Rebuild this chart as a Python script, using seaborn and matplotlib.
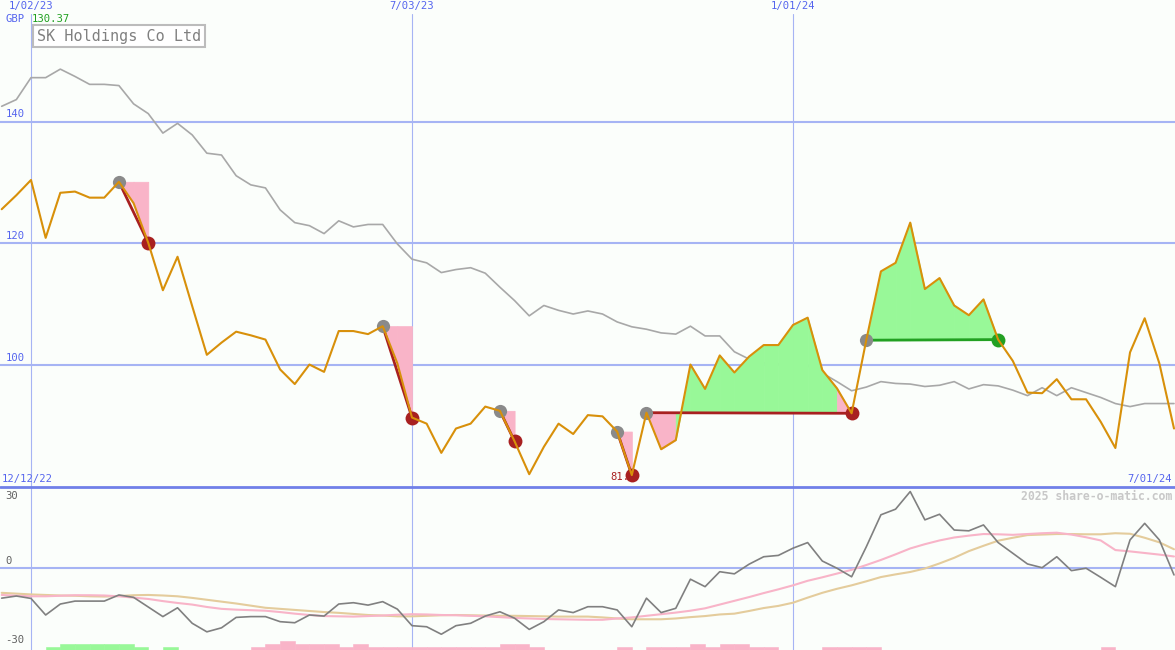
import numpy as np
import pandas as pd
import seaborn as sns
import matplotlib.pyplot as plt
import matplotlib.dates as mdates
from matplotlib.lines import Line2D

# weekly closes, 12/19/22 .. 7/01/24
weeks = pd.date_range("2022-12-19", periods=81, freq="7D")

price = [125.6, 127.9, 130.4, 120.9, 128.3, 128.5, 127.5, 127.5, 130.1, 126.6,
         120.1, 112.3, 117.8, 109.7, 101.7, 103.7, 105.5, 104.9, 104.2, 99.3,
         96.9, 100.1, 98.9, 105.6, 105.6, 105.1, 106.4, 100.3, 91.4, 90.4,
         85.6, 89.6, 90.4, 93.2, 92.5, 87.5, 82.1, 86.6, 90.4, 88.7,
         91.8, 91.6, 89.1, 81.95, 92.2, 86.2, 87.7, 100.1, 96.1, 101.6,
         98.8, 101.4, 103.3, 103.3, 106.6, 107.8, 99.2, 96.2, 92.1, 104.1,
         115.4, 116.8, 123.4, 112.5, 114.3, 109.8, 108.2, 110.8, 104.2, 100.7,
         95.5, 95.4, 97.7, 94.4, 94.4, 90.7, 86.4, 102.1, 107.7, 100.3,
         89.6]

# slow moving average (grey)
avg = [142.5, 143.6, 147.2, 147.2, 148.6, 147.4, 146.1, 146.1, 145.9, 142.9,
       141.3, 138.1, 139.7, 137.8, 134.8, 134.5, 131.1, 129.6, 129.1, 125.5,
       123.4, 122.9, 121.6, 123.7, 122.7, 123.1, 123.1, 119.9, 117.4, 116.8,
       115.2, 115.7, 116.0, 115.1, 112.8, 110.6, 108.1, 109.8, 109.0, 108.4,
       108.9, 108.4, 107.1, 106.3, 105.9, 105.3, 105.1, 106.4, 104.8, 104.8,
       102.2, 101.0, 100.4, 100.2, 100.5, 99.9, 98.7, 97.3, 95.8, 96.4,
       97.3, 97.0, 96.9, 96.5, 96.7, 97.3, 96.1, 96.8, 96.6, 95.9,
       95.0, 96.3, 95.0, 96.3, 95.5, 94.7, 93.7, 93.2, 93.7, 93.7,
       93.7]

# lower panel oscillator and its two averages
osc = [-11.3, -10.5, -11.4, -17.6, -13.5, -12.4, -12.4, -12.4, -10.1, -11.0,
       -14.6, -18.2, -14.9, -20.7, -23.9, -22.4, -18.5, -18.2, -18.2, -20.1,
       -20.5, -17.6, -18.0, -13.5, -13.0, -13.9, -12.6, -15.4, -21.6, -22.0,
       -24.8, -21.6, -20.7, -18.0, -16.4, -18.8, -23.0, -20.1, -15.7, -16.7,
       -14.5, -14.5, -15.7, -22.0, -11.3, -16.7, -15.1, -4.2, -7.0, -1.4,
       -2.2, 1.4, 4.2, 4.7, 7.4, 9.5, 2.6, -0.1, -3.3, 7.9,
       19.9, 22.0, 28.6, 18.0, 20.1, 14.2, 13.9, 16.1, 9.5, 5.5,
       1.5, 0.1, 4.2, -1.0, -0.1, -3.5, -7.0, 10.5, 16.7, 10.5,
       -2.6]

osc_fast = [-10.1, -10.4, -10.6, -10.6, -10.4, -10.2, -10.2, -10.3, -10.6, -11.1,
            -11.6, -12.4, -13.1, -13.7, -14.6, -15.3, -15.6, -15.8, -16.0, -16.5,
            -17.1, -17.6, -18.0, -18.1, -18.2, -18.0, -17.8, -17.5, -17.3, -17.4,
            -17.6, -17.7, -17.9, -18.1, -18.4, -18.7, -18.9, -19.1, -19.2, -19.3,
            -19.4, -19.4, -18.9, -18.5, -17.9, -17.3, -16.7, -16.0, -15.1, -13.7,
            -12.3, -10.9, -9.4, -8.0, -6.5, -4.8, -3.5, -2.1, -0.7, 1.1,
            3.0, 5.1, 7.3, 8.9, 10.3, 11.4, 12.1, 12.7, 12.6, 12.4,
            12.7, 13.0, 13.2, 12.5, 11.5, 10.3, 6.7, 6.2, 5.6, 5.0,
            4.3]

osc_slow = [-9.3, -9.6, -9.9, -10.1, -10.3, -10.4, -10.6, -10.7, -10.5, -10.2,
            -10.1, -10.3, -10.6, -11.2, -11.9, -12.6, -13.3, -14.1, -14.9, -15.3,
            -15.7, -16.1, -16.5, -16.8, -17.2, -17.6, -17.8, -18.1, -18.1, -17.9,
            -17.7, -17.6, -17.7, -17.8, -17.9, -17.9, -18.0, -18.1, -18.2, -18.2,
            -18.2, -18.5, -18.9, -19.2, -19.2, -19.2, -18.9, -18.4, -18.0, -17.4,
            -17.1, -16.1, -15.0, -14.2, -13.0, -11.1, -9.3, -7.8, -6.5, -5.0,
            -3.4, -2.4, -1.5, -0.2, 1.7, 3.8, 6.3, 8.3, 10.2, 11.3,
            12.3, 12.5, 12.7, 12.7, 12.6, 12.6, 13.0, 12.8, 11.3, 9.6,
            7.0]

# small histogram along the bottom edge (+ green, - pink)
hist = [0, 0, 0, 1.1, 2.2, 2.2, 2.2, 2.2, 2.2, 1.1,
        0, 1.1, 0, 0, 0, 0, 0, -1.1, -2.2, -3.4,
        -2.2, -2.2, -2.2, -1.1, -2.2, -1.1, -1.1, -1.1, -1.1, -1.1,
        -1.1, -1.1, -1.1, -1.1, -2.2, -2.2, -1.1, 0, 0, 0,
        0, 0, -1.1, 0, -1.1, -1.1, -1.1, -2.2, -1.1, -2.2,
        -2.2, -1.1, -1.1, 0, 0, 0, -1.1, -1.1, -1.1, -1.1,
        0, 0, 0, 0, 0, 0, 0, 0, 0, 0,
        0, 0, 0, 0, 0, -1.1, 0, 0, 0, 0,
        0]

# (entry week, exit week) as positions in weeks
trades = [(8, 10), (26, 28), (34, 35), (42, 43), (44, 58), (59, 68)]

grid_dates = ["2023-01-02", "2023-07-03", "2024-01-01"]
grid_labels = ["1/02/23", "7/03/23", "1/01/24"]
price_levels = [100, 120, 140]

BG = "#fbfefb"
GRID = "#a6b4f4"
BLUE_TXT = "#5565ee"
ORANGE = "#d8900a"
PINK_FILL = "#f9b4c8"
GREEN_FILL = "#98f898"
LOSS = "#a82020"
WIN = "#22a022"
FS = 7.6

sns.set_theme(style="white")
plt.rcParams["font.family"] = ["DejaVu Sans Mono", "DejaVu Sans"]

W, H = 1175, 650
fig = plt.figure(figsize=(W / 100, H / 100), dpi=100)
fig.patch.set_facecolor(BG)
ax1 = fig.add_axes([0, 163 / H, 1, (487 - 14) / H])
ax2 = fig.add_axes([0, 0, 1, 163 / H])

px_day = 2.0934
x0 = mdates.date2num(pd.Timestamp("2023-01-02")) - 31 / px_day
x1 = x0 + W / px_day

for ax in (ax1, ax2):
    ax.set_facecolor(BG)
    ax.set_xlim(x0, x1)
    for s in ax.spines.values():
        s.set_visible(False)
    for d in grid_dates:
        ax.axvline(pd.Timestamp(d), color=GRID, lw=0.8, zorder=1)

ax1.set_ylim(80.0, 157.65)
ax2.set_ylim(-30.7, 30.3)

# ---- price panel
for lv in price_levels:
    ax1.axhline(lv, color=GRID, lw=1.5, zorder=1)
    ax1.annotate(str(lv), (0, lv), xycoords=("axes fraction", "data"),
                 xytext=(4, 1.5), textcoords="offset points",
                 fontsize=FS, color=BLUE_TXT, va="bottom")

sns.lineplot(x=weeks, y=avg, ax=ax1, color="#a8a8a8", lw=1.2, zorder=2)

for i, j in trades:
    entry = price[i]
    for k in range(i, j):
        col = GREEN_FILL if price[k + 1] >= entry else PINK_FILL
        ax1.fill_between(weeks[k:k + 2], price[k:k + 2], entry,
                         facecolor=col, edgecolor=col, lw=0.6, zorder=2)
    c = WIN if price[j] >= entry else LOSS
    ax1.plot([weeks[i], weeks[j]], [entry, price[j]], color=c, lw=2, zorder=3)
    ax1.plot(weeks[i], entry, "o", color="#8a8a8a", ms=9.5, mew=0, zorder=3)
    ax1.plot(weeks[j], price[j], "o", color=c, ms=10, mew=0, zorder=3.5)

low = int(np.argmin(price))
ax1.annotate("81.9", (weeks[low], price[low]), xytext=(3, -1.5),
             textcoords="offset points", ha="right", va="center",
             fontsize=FS, color=LOSS, zorder=3.2)

sns.lineplot(x=weeks, y=price, ax=ax1, color=ORANGE, lw=1.5, zorder=4)

# ---- oscillator panel
ax2.axhline(0, color=GRID, lw=1.5, zorder=1)
for k, h in enumerate(hist):
    if h:
        col = GREEN_FILL if h > 0 else PINK_FILL
        ax2.bar(weeks[k], abs(h), width=7, bottom=-30.7, align="edge",
                facecolor=col, edgecolor=col, lw=0.4, zorder=2)
sns.lineplot(x=weeks, y=osc_slow, ax=ax2, color="#e4cc9c", lw=1.5, zorder=3)
sns.lineplot(x=weeks, y=osc_fast, ax=ax2, color="#f8b4c8", lw=1.5, zorder=3)
sns.lineplot(x=weeks, y=osc, ax=ax2, color="#808080", lw=1.2, zorder=4)

ax2.annotate("30", (0, 30.3), xycoords=("axes fraction", "data"),
             xytext=(4, -3), textcoords="offset points", va="top",
             fontsize=FS, color="#606060")
ax2.annotate("0", (0, 0), xycoords=("axes fraction", "data"),
             xytext=(4, 1.5), textcoords="offset points", va="bottom",
             fontsize=FS, color="#606060")
ax2.annotate("-30", (0, -30.7), xycoords=("axes fraction", "data"),
             xytext=(4, 3.5), textcoords="offset points", va="bottom",
             fontsize=FS, color="#606060")

for ax in (ax1, ax2):
    ax.set_xticks([])
    ax.set_yticks([])
    ax.set_xlabel("")
    ax.set_ylabel("")

# separator between panels
fig.add_artist(Line2D([0, 1], [163 / H, 163 / H], color="#7080e8", lw=2,
                      transform=fig.transFigure, zorder=10))

# ---- texts around the frame
for d, lab in zip(grid_dates, grid_labels):
    xf = (mdates.date2num(pd.Timestamp(d)) - x0) / (x1 - x0)
    fig.text(xf, 1 - 6 / H, lab, ha="center", va="center",
             fontsize=FS, color=BLUE_TXT)
fig.text(5 / W, 1 - 19 / H, "GBP", ha="left", va="center",
         fontsize=FS, color=BLUE_TXT)
fig.text(32 / W, 1 - 19 / H, "130.37", ha="left", va="center",
         fontsize=FS, color="#20a020")
fig.text(2 / W, 1 - 479 / H, "12/12/22", ha="left", va="center",
         fontsize=FS, color=BLUE_TXT)
fig.text(1172 / W, 1 - 479 / H, "7/01/24", ha="right", va="center",
         fontsize=FS, color=BLUE_TXT)
fig.text(1172 / W, 1 - 496 / H, "2025 share-o-matic.com", ha="right",
         va="center", fontsize=8.3, fontweight="bold", color="#c8c8c8")
fig.text(37 / W, 1 - 36 / H, "SK Holdings Co Ltd", ha="left", va="center",
         fontsize=10.9, color="#808080",
         bbox=dict(boxstyle="square,pad=0.25", fc="white", ec="#bcbcbc", lw=1.5))

fig.savefig("out.png", dpi=100, facecolor=BG)
